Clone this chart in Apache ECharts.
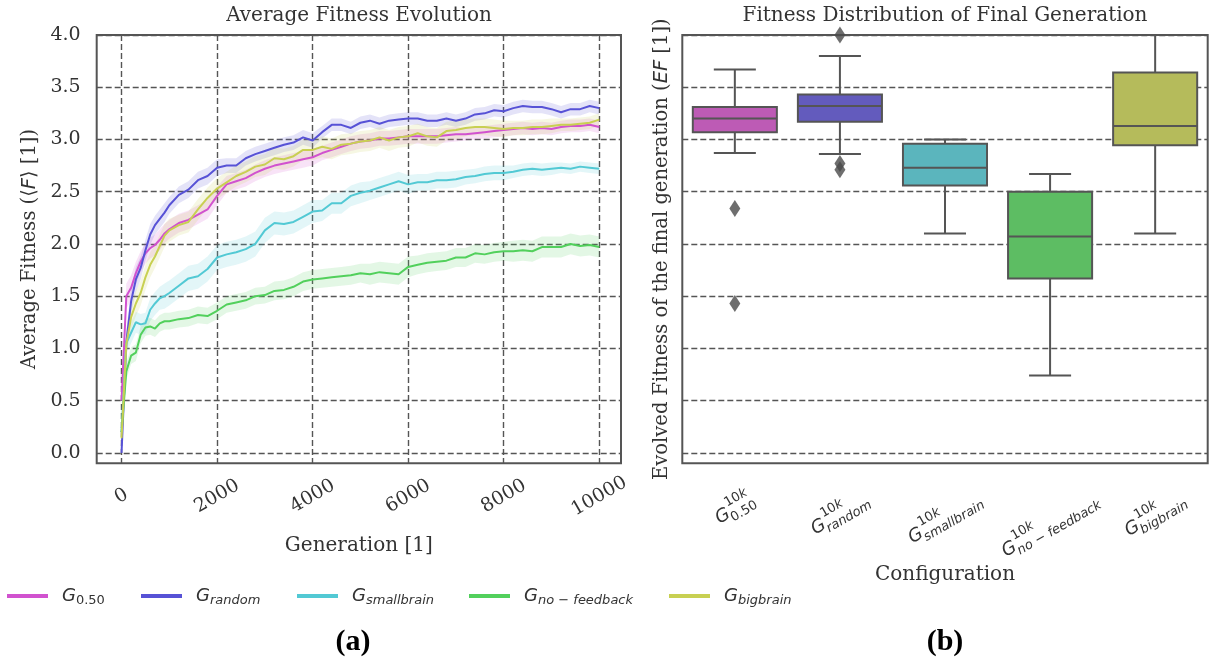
<!DOCTYPE html>
<html><head><meta charset="utf-8">
<script src="https://cdn.jsdelivr.net/npm/echarts@6/dist/echarts.min.js"></script>
<style>html,body{margin:0;padding:0;background:#fff}#c{width:1209px;height:661px}</style>
</head><body><div id="c"></div><script>
// ---------- data ----------
const generations = [0,100,200,300,400,500,600,700,800,900,1000,
 1200,1400,1600,1800,2000,2200,2400,2600,2800,3000,3200,3400,3600,3800,4000,
 4200,4400,4600,4800,5000,5200,5400,5600,5800,6000,6200,6400,6600,6800,7000,
 7200,7400,7600,7800,8000,8200,8400,8600,8800,9000,9200,9400,9600,9800,10000];

const fitG050 = [0.50,1.50,1.58,1.72,1.83,1.91,1.96,1.99,2.04,2.10,2.14,
 2.20,2.23,2.28,2.33,2.46,2.57,2.60,2.63,2.68,2.72,2.75,2.77,2.79,2.81,2.83,
 2.87,2.90,2.93,2.96,2.98,2.99,3.01,3.01,3.02,3.03,3.03,3.03,3.03,3.04,3.05,
 3.05,3.06,3.07,3.08,3.09,3.10,3.11,3.10,3.11,3.10,3.12,3.13,3.13,3.14,3.12];
const fitRandom = [0.00,1.06,1.45,1.66,1.77,1.94,2.09,2.18,2.24,2.30,2.37,
 2.47,2.52,2.61,2.65,2.73,2.75,2.75,2.82,2.86,2.89,2.92,2.95,2.97,3.02,2.99,
 3.07,3.14,3.14,3.11,3.16,3.18,3.15,3.18,3.19,3.20,3.20,3.18,3.18,3.20,3.18,
 3.20,3.24,3.25,3.28,3.27,3.30,3.32,3.31,3.31,3.29,3.26,3.29,3.29,3.32,3.30];
const fitSmall = [0.20,1.05,1.15,1.25,1.23,1.24,1.37,1.43,1.48,1.50,1.53,
 1.60,1.67,1.69,1.76,1.87,1.90,1.92,1.95,2.00,2.13,2.20,2.19,2.21,2.26,2.31,
 2.32,2.39,2.39,2.46,2.49,2.51,2.54,2.57,2.60,2.57,2.59,2.59,2.61,2.61,2.62,
 2.64,2.65,2.67,2.68,2.68,2.69,2.71,2.72,2.71,2.72,2.73,2.72,2.74,2.73,2.72];
const fitNoFb = [0.20,0.78,0.93,0.96,1.13,1.20,1.21,1.19,1.24,1.26,1.26,
 1.28,1.29,1.32,1.31,1.36,1.42,1.44,1.46,1.50,1.51,1.55,1.56,1.59,1.64,1.66,
 1.67,1.68,1.69,1.70,1.72,1.71,1.73,1.72,1.71,1.78,1.80,1.82,1.83,1.84,1.87,
 1.87,1.91,1.90,1.92,1.93,1.93,1.94,1.93,1.97,1.97,1.97,2.00,1.98,1.99,1.97];
const fitBig = [0.14,1.04,1.30,1.43,1.53,1.68,1.80,1.88,1.98,2.08,2.13,
 2.18,2.21,2.33,2.44,2.53,2.59,2.65,2.69,2.74,2.76,2.82,2.81,2.84,2.90,2.90,
 2.93,2.91,2.95,2.96,2.98,2.99,3.02,2.99,3.02,3.03,3.06,3.03,3.02,3.08,3.09,
 3.11,3.12,3.12,3.11,3.10,3.11,3.11,3.12,3.12,3.13,3.14,3.14,3.15,3.16,3.19];

// half-width of the shaded confidence band
const bandG050 = [0.05,0.12,0.12,0.11,0.10,0.10,0.10,0.10,0.10,0.09,0.09,
 0.09,0.09,0.09,0.09,0.09,0.08,0.08,0.08,0.08,0.08,0.08,0.08,0.08,0.08,0.08,
 0.07,0.07,0.07,0.07,0.07,0.07,0.07,0.07,0.07,0.07,0.07,0.07,0.07,0.07,0.07,
 0.06,0.06,0.06,0.06,0.06,0.06,0.06,0.06,0.06,0.06,0.06,0.06,0.06,0.06,0.06];
const bandRandom = [0.02,0.12,0.12,0.12,0.11,0.10,0.10,0.09,0.09,0.09,0.08,
 0.08,0.08,0.08,0.08,0.08,0.07,0.07,0.07,0.07,0.07,0.07,0.07,0.07,0.07,0.07,
 0.06,0.06,0.06,0.06,0.06,0.06,0.06,0.06,0.06,0.06,0.06,0.06,0.06,0.06,0.06,
 0.06,0.06,0.06,0.06,0.06,0.06,0.06,0.06,0.06,0.06,0.06,0.06,0.06,0.06,0.06];
const bandSmall = [0.05,0.10,0.10,0.10,0.10,0.10,0.11,0.11,0.11,0.12,0.12,
 0.12,0.12,0.12,0.12,0.12,0.12,0.12,0.12,0.12,0.12,0.11,0.11,0.11,0.11,0.11,
 0.10,0.10,0.10,0.10,0.10,0.09,0.09,0.09,0.09,0.09,0.08,0.08,0.08,0.08,0.08,
 0.07,0.07,0.07,0.07,0.07,0.06,0.06,0.06,0.06,0.06,0.05,0.05,0.05,0.05,0.05];
const bandNoFb = [0.05,0.08,0.08,0.08,0.08,0.08,0.08,0.08,0.08,0.08,0.08,
 0.08,0.08,0.08,0.08,0.08,0.08,0.08,0.08,0.08,0.08,0.09,0.09,0.09,0.09,0.09,
 0.09,0.09,0.09,0.09,0.09,0.10,0.10,0.10,0.10,0.10,0.09,0.09,0.09,0.09,0.09,
 0.09,0.09,0.09,0.09,0.09,0.10,0.10,0.10,0.10,0.10,0.10,0.10,0.10,0.10,0.10];
const bandBig = [0.05,0.12,0.12,0.12,0.12,0.12,0.12,0.11,0.11,0.11,0.11,
 0.10,0.10,0.10,0.10,0.10,0.10,0.10,0.10,0.10,0.10,0.10,0.10,0.10,0.10,0.10,
 0.10,0.10,0.10,0.10,0.10,0.10,0.10,0.10,0.10,0.10,0.09,0.09,0.09,0.09,0.09,
 0.08,0.08,0.08,0.08,0.08,0.07,0.07,0.07,0.07,0.07,0.06,0.06,0.06,0.06,0.06];

const seriesNames = ['G0.50','Grandom','Gsmallbrain','Gno-feedback','Gbigbrain'];
const legendSubs = ['0.50','random','smallbrain','no \u2212 feedback','bigbrain'];
const xTicks = [0,2000,4000,6000,8000,10000];
const yTicks = [0,0.5,1,1.5,2,2.5,3,3.5,4];

// box plot (final generation): [lower whisker, Q1, median, Q3, upper whisker]
const boxCategories = ['G0.50','Grandom','Gsmallbrain','Gno-feedback','Gbigbrain'];
const boxSubs = ['0.50','random','smallbrain','no \u2212 feedback','bigbrain'];
const boxG050   = [2.87, 3.07, 3.20, 3.31, 3.67];
const boxRandom = [2.86, 3.17, 3.32, 3.43, 3.80];
const boxSmall  = [2.10, 2.56, 2.73, 2.96, 3.00];
const boxNoFb   = [0.74, 1.67, 2.07, 2.50, 2.67];
const boxBig    = [2.10, 2.945, 3.13, 3.64, 4.00];
const outlierCat = [0, 0, 1, 1, 1];
const outlierVal = [2.34, 1.43, 4.00, 2.77, 2.71];

// ---------- styles ----------
const lineColors = ['#d152cf','#5752d6','#52c9d4','#52d05c','#c8d052'];
const boxColors  = ['#bd5bb5','#635bbd','#5bb5bd','#5dbd63','#b5bb5b'];
const edge = '#555555';
const txt = '#333333';
const SERIF = '"DejaVu Serif", serif';
const SANS = '"DejaVu Sans", sans-serif';
const gridStyle = {show:true, lineStyle:{color:'#555', width:1.4, type:[6,3]}};

const fits = [fitG050, fitRandom, fitSmall, fitNoFb, fitBig];
const bands = [bandG050, bandRandom, bandSmall, bandNoFb, bandBig];
const boxes = [boxG050, boxRandom, boxSmall, boxNoFb, boxBig];

const mctx = document.createElement('canvas').getContext('2d');
function tw(font, s){ mctx.font = font; return mctx.measureText(s).width; }

const series = [];
// confidence bands as polygons through the axis scales
fits.forEach((f, i) => {
  series.push({
    type: 'custom', xAxisIndex: 0, yAxisIndex: 0, clip: true, silent: true, z: 1,
    data: [[generations[0], f[0]]],
    renderItem: (params, api) => {
      const pts = [];
      for (let j = 0; j < generations.length; j++) pts.push(api.coord([generations[j], f[j] + bands[i][j]]));
      for (let j = generations.length - 1; j >= 0; j--) pts.push(api.coord([generations[j], f[j] - bands[i][j]]));
      return {type: 'polygon', shape: {points: pts}, style: {fill: lineColors[i], opacity: 0.16}};
    }
  });
});
// mean lines
fits.forEach((f, i) => {
  series.push({
    name: seriesNames[i], type: 'line', xAxisIndex: 0, yAxisIndex: 0,
    data: generations.map((g, j) => [g, f[j]]),
    symbol: 'none', color: lineColors[i], lineStyle: {width: 2, color: lineColors[i]}, z: 3
  });
});
// boxes
series.push({
  type: 'custom', xAxisIndex: 1, yAxisIndex: 1, clip: true, z: 3,
  data: boxes.map((b, i) => [i].concat(b)),
  renderItem: (params, api) => {
    const i = api.value(0);
    const bw = api.size([1, 0])[0] * 0.8;
    const cx = api.coord([i, 0])[0];
    const y = k => api.coord([i, api.value(k)])[1];
    const yl = y(1), yq1 = y(2), ym = y(3), yq3 = y(4), yh = y(5);
    const ls = {stroke: edge, lineWidth: 2};
    return {type: 'group', children: [
      {type: 'line', shape: {x1: cx, y1: yq3, x2: cx, y2: yh}, style: ls},
      {type: 'line', shape: {x1: cx, y1: yq1, x2: cx, y2: yl}, style: ls},
      {type: 'line', shape: {x1: cx - bw/4, y1: yh, x2: cx + bw/4, y2: yh}, style: ls},
      {type: 'line', shape: {x1: cx - bw/4, y1: yl, x2: cx + bw/4, y2: yl}, style: ls},
      {type: 'rect', shape: {x: cx - bw/2, y: yq3, width: bw, height: yq1 - yq3},
        style: {fill: boxColors[i], stroke: edge, lineWidth: 2}},
      {type: 'line', shape: {x1: cx - bw/2, y1: ym, x2: cx + bw/2, y2: ym}, style: ls}
    ]};
  }
});
// outliers
series.push({
  type: 'scatter', xAxisIndex: 1, yAxisIndex: 1, clip: true, z: 4,
  data: outlierCat.map((c, k) => [c, outlierVal[k]]),
  symbol: 'diamond', symbolSize: [11, 17], itemStyle: {color: '#4a4a4a'}
});
// rotated category labels G^{10k}_{sub}
const fG = 'italic 18px "DejaVu Sans"';
const fS = '13px "DejaVu Sans"';
const fSi = 'italic 13px "DejaVu Sans"';
series.push({
  type: 'custom', xAxisIndex: 1, yAxisIndex: 1, clip: false, z: 5, silent: true,
  data: boxCategories.map((c, i) => [i]),
  renderItem: (params, api) => {
    const i = api.value(0);
    const base = api.coord([i, -0.1]);
    const sub = boxSubs[i];
    const subFont = i === 0 ? fS : fSi;
    const wG = tw(fG, 'G');
    const w10 = tw(fS, '10'), wk = tw(fSi, 'k');
    const wSub = tw(subFont, sub);
    const xs = wG + 0.5;
    const W = xs + Math.max(w10 + wk, wSub);
    const topL = -16, botL = 13, H = botL - topL, cy = (topL + botL) / 2;
    const th = Math.PI / 6;
    const bbH = W * Math.sin(th) + H * Math.cos(th);
    const ox = -W / 2, oy = -cy;
    const st = (t, f, x, yy) => ({type: 'text', x: x + ox, y: yy + oy,
      style: {text: t, font: f, fill: txt, align: 'left', verticalAlign: 'middle'}});
    return {type: 'group', x: base[0], y: base[1] + 21 + bbH / 2, rotation: th, children: [
      st('G', fG, 0, 0),
      st('10', fS, xs + 1, -9.5),
      st('k', fSi, xs + 1 + w10, -9.5),
      st(sub, subFont, xs - 1, 6.5)
    ]};
  }
});

const legendLeft = [7, 141, 297, 469, 669];
const legendRich = {
  g: {fontFamily: SANS, fontStyle: 'italic', fontSize: 18, color: txt, padding: [0,0,0,9]},
  s: {fontFamily: SANS, fontStyle: 'italic', fontSize: 13, color: txt, padding: [9,0,0,0]},
  n: {fontFamily: SANS, fontStyle: 'normal', fontSize: 13, color: txt, padding: [9,0,0,0]}
};
const legends = seriesNames.map((n, k) => ({
  data: [n], left: legendLeft[k], top: 587, itemWidth: 41, itemHeight: 4, icon: 'rect',
  padding: 0, selectedMode: false,
  formatter: () => '{g|G}' + (k === 0 ? '{n|' : '{s|') + legendSubs[k] + '}',
  textStyle: {rich: legendRich}
}));

const option = {
  animation: false,
  backgroundColor: '#fff',
  grid: [
    {left: 96.7, top: 35, width: 524.3, height: 428.3, show: true, borderColor: edge, borderWidth: 2, backgroundColor: 'transparent'},
    {left: 682.3, top: 35, width: 525.4, height: 428.3, show: true, borderColor: edge, borderWidth: 2, backgroundColor: 'transparent'}
  ],
  xAxis: [
    {type: 'value', gridIndex: 0, min: -520, max: 10455,
     axisLine: {show: false}, axisTick: {show: false, customValues: xTicks},
     axisLabel: {customValues: xTicks, rotate: 30, align: 'center', verticalAlign: 'middle', margin: 33,
       fontFamily: SERIF, fontSize: 19, color: txt, formatter: v => String(v)},
     splitLine: gridStyle,
     name: 'Generation [1]', nameLocation: 'middle', nameGap: 72,
     nameTextStyle: {fontFamily: SERIF, fontSize: 20, color: txt}},
    {type: 'category', gridIndex: 1, data: boxCategories, boundaryGap: true,
     axisLine: {show: false}, axisTick: {show: false}, axisLabel: {show: false},
     splitLine: {show: false},
     name: 'Configuration', nameLocation: 'middle', nameGap: 101,
     nameTextStyle: {fontFamily: SERIF, fontSize: 20, color: txt}}
  ],
  yAxis: [
    {type: 'value', gridIndex: 0, min: -0.1, max: 4.0,
     axisLine: {show: false}, axisTick: {show: false, customValues: yTicks},
     axisLabel: {customValues: yTicks, margin: 16, fontFamily: SERIF, fontSize: 19, color: txt,
       formatter: v => v.toFixed(1)},
     splitLine: gridStyle,
     name: '{a|Average Fitness (}{b|\u27E8}{c|F}{b|\u27E9}{a| [1])}', nameLocation: 'middle', nameGap: 57,
     nameTextStyle: {rich: {
       a: {fontFamily: SERIF, fontSize: 19.5, color: txt},
       b: {fontFamily: SANS, fontSize: 19.5, color: txt},
       c: {fontFamily: SANS, fontStyle: 'italic', fontSize: 19.5, color: txt}}}},
    {type: 'value', gridIndex: 1, min: -0.1, max: 4.0,
     axisLine: {show: false}, axisTick: {show: false, customValues: yTicks},
     axisLabel: {show: false, customValues: yTicks},
     splitLine: gridStyle,
     name: '{a|Evolved Fitness of the final generation (}{c|EF}{a| [1])}', nameLocation: 'middle', nameGap: 10.5,
     nameTextStyle: {rich: {
       a: {fontFamily: SERIF, fontSize: 19.5, color: txt},
       c: {fontFamily: SANS, fontStyle: 'italic', fontSize: 19.5, color: txt}}}}
  ],
  legend: legends,
  graphic: [
    {type: 'text', x: 359, y: 16, style: {text: 'Average Fitness Evolution', font: '20px "DejaVu Serif"', fill: txt, align: 'center', verticalAlign: 'middle'}},
    {type: 'text', x: 945, y: 16, style: {text: 'Fitness Distribution of Final Generation', font: '20px "DejaVu Serif"', fill: txt, align: 'center', verticalAlign: 'middle'}},
    {type: 'text', x: 353, y: 642, style: {text: '(a)', font: 'bold 30px "Liberation Serif"', fill: '#000', align: 'center', verticalAlign: 'middle'}},
    {type: 'text', x: 945, y: 642, style: {text: '(b)', font: 'bold 30px "Liberation Serif"', fill: '#000', align: 'center', verticalAlign: 'middle'}}
  ],
  series: series
};
const chart = echarts.init(document.getElementById('c'), null, {renderer: 'canvas'});
chart.setOption(option);
</script></body></html>
